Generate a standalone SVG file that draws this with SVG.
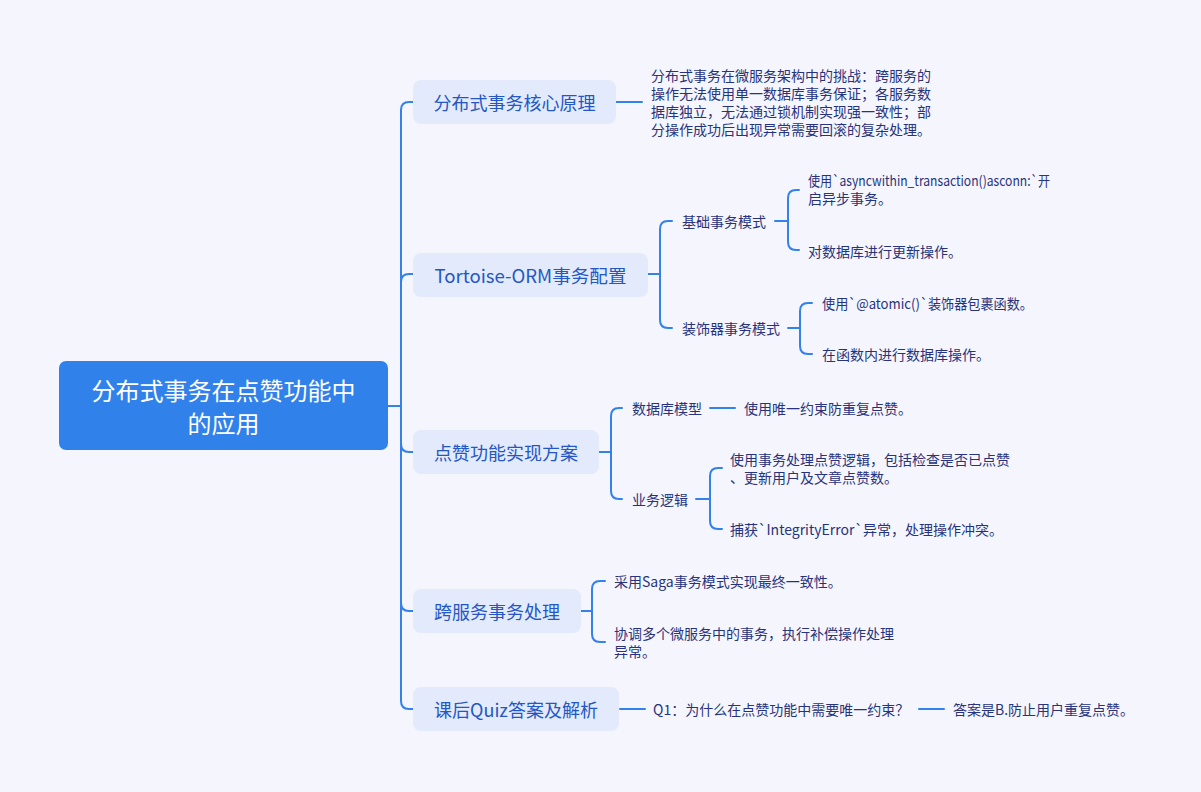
<svg xmlns="http://www.w3.org/2000/svg" width="1201" height="792" viewBox="0 0 1201 792">
<style>
text{font-family:"Noto Sans CJK SC","Noto Sans",sans-serif;dominant-baseline:central}
.root-box{fill:#3181eb}
.root-t{fill:#ffffff;font-size:24px;text-anchor:middle}
.box{fill:#e2eafc}
.n1{fill:#2457c5;font-size:18px;text-anchor:middle}
.leaf{fill:#27337c;font-size:14px}
.conn{fill:none;stroke:#3382ec;stroke-width:2;stroke-linecap:round;stroke-linejoin:round}
</style>
<rect x="0" y="0" width="1201" height="792" fill="#f4f5fd"/>
<g id="connectors">
<path class="conn" d="M388,406 H401 V110 Q401,102 409,102 H413"/>
<path class="conn" d="M401,406 V282 Q401,274 409,274 H413"/>
<path class="conn" d="M401,406 V444 Q401,452 409,452 H413"/>
<path class="conn" d="M401,406 V603 Q401,611 409,611 H413"/>
<path class="conn" d="M401,406 V701 Q401,709 409,709 H413"/>
<path class="conn" d="M616,102 H642"/>
<path class="conn" d="M648,274 H660 V229 Q660,221 668,221 H672 M660,274 V320 Q660,328 668,328 H672"/>
<path class="conn" d="M775,221 H788 V198 Q788,190 796,190 H799 M788,221 V242 Q788,250 796,250 H799"/>
<path class="conn" d="M788,328 H800 V311 Q800,303 808,303 H812 M800,328 V346 Q800,354 808,354 H812"/>
<path class="conn" d="M599,452 H611 V416 Q611,408 619,408 H622 M611,452 V491 Q611,499 619,499 H622"/>
<path class="conn" d="M710,408 H735"/>
<path class="conn" d="M696,499 H710 V476 Q710,468 718,468 H722 M710,499 V521 Q710,529 718,529 H722"/>
<path class="conn" d="M581,611 H592 V589 Q592,581 600,581 H605 M592,611 V634 Q592,642 600,642 H605"/>
<path class="conn" d="M620,709 H645"/>
<path class="conn" d="M919,709 H944"/>
</g>
<g id="root">
<rect class="root-box" x="59" y="361" width="329" height="89" rx="7"/>
<text class="root-t" x="223.5" y="389">分布式事务在点赞功能中</text>
<text class="root-t" x="223.5" y="422">的应用</text>
</g>
<g id="n-principle">
<rect class="box" x="413" y="80" width="203" height="44" rx="8"/>
<text class="n1" x="514.5" y="102">分布式事务核心原理</text>
</g>
<g id="n-principle-desc">
<text class="leaf" x="651" y="75">分布式事务在微服务架构中的挑战：跨服务的</text>
<text class="leaf" x="651" y="93">操作无法使用单一数据库事务保证；各服务数</text>
<text class="leaf" x="651" y="111">据库独立，无法通过锁机制实现强一致性；部</text>
<text class="leaf" x="651" y="129">分操作成功后出现异常需要回滚的复杂处理。</text>
</g>
<g id="n-tortoise">
<rect class="box" x="413" y="253" width="235" height="44" rx="8"/>
<text class="n1" x="530.5" y="275" textLength="192" lengthAdjust="spacingAndGlyphs">Tortoise-ORM事务配置</text>
</g>
<g id="n-basic">
<text class="leaf" x="682" y="221">基础事务模式</text>
</g>
<g id="n-basic-1">
<text class="leaf" x="808" y="180" textLength="242" lengthAdjust="spacingAndGlyphs">使用`asyncwithin_transaction()asconn:`开</text>
<text class="leaf" x="808" y="198">启异步事务。</text>
</g>
<g id="n-basic-2">
<text class="leaf" x="808" y="251">对数据库进行更新操作。</text>
</g>
<g id="n-deco">
<text class="leaf" x="682" y="328">装饰器事务模式</text>
</g>
<g id="n-deco-1">
<text class="leaf" x="822" y="303" textLength="211" lengthAdjust="spacingAndGlyphs">使用`@atomic()`装饰器包裹函数。</text>
</g>
<g id="n-deco-2">
<text class="leaf" x="822" y="354">在函数内进行数据库操作。</text>
</g>
<g id="n-like">
<rect class="box" x="413" y="430" width="186" height="44" rx="8"/>
<text class="n1" x="506" y="452">点赞功能实现方案</text>
</g>
<g id="n-dbmodel">
<text class="leaf" x="632" y="408">数据库模型</text>
</g>
<g id="n-dbmodel-1">
<text class="leaf" x="744" y="408">使用唯一约束防重复点赞。</text>
</g>
<g id="n-logic">
<text class="leaf" x="632" y="499">业务逻辑</text>
</g>
<g id="n-logic-1">
<text class="leaf" x="730" y="459">使用事务处理点赞逻辑，包括检查是否已点赞</text>
<text class="leaf" x="730" y="477">、更新用户及文章点赞数。</text>
</g>
<g id="n-logic-2">
<text class="leaf" x="730" y="529">捕获`IntegrityError`异常，处理操作冲突。</text>
</g>
<g id="n-cross">
<rect class="box" x="413" y="589" width="168" height="44" rx="8"/>
<text class="n1" x="497" y="611">跨服务事务处理</text>
</g>
<g id="n-cross-1">
<text class="leaf" x="614" y="581">采用Saga事务模式实现最终一致性。</text>
</g>
<g id="n-cross-2">
<text class="leaf" x="614" y="633">协调多个微服务中的事务，执行补偿操作处理</text>
<text class="leaf" x="614" y="651">异常。</text>
</g>
<g id="n-quiz">
<rect class="box" x="413" y="687" width="206" height="44" rx="8"/>
<text class="n1" x="516" y="709">课后Quiz答案及解析</text>
</g>
<g id="n-q1">
<text class="leaf" x="653" y="709">Q1：为什么在点赞功能中需要唯一约束？</text>
</g>
<g id="n-a1">
<text class="leaf" x="953" y="709">答案是B.防止用户重复点赞。</text>
</g>
</svg>
